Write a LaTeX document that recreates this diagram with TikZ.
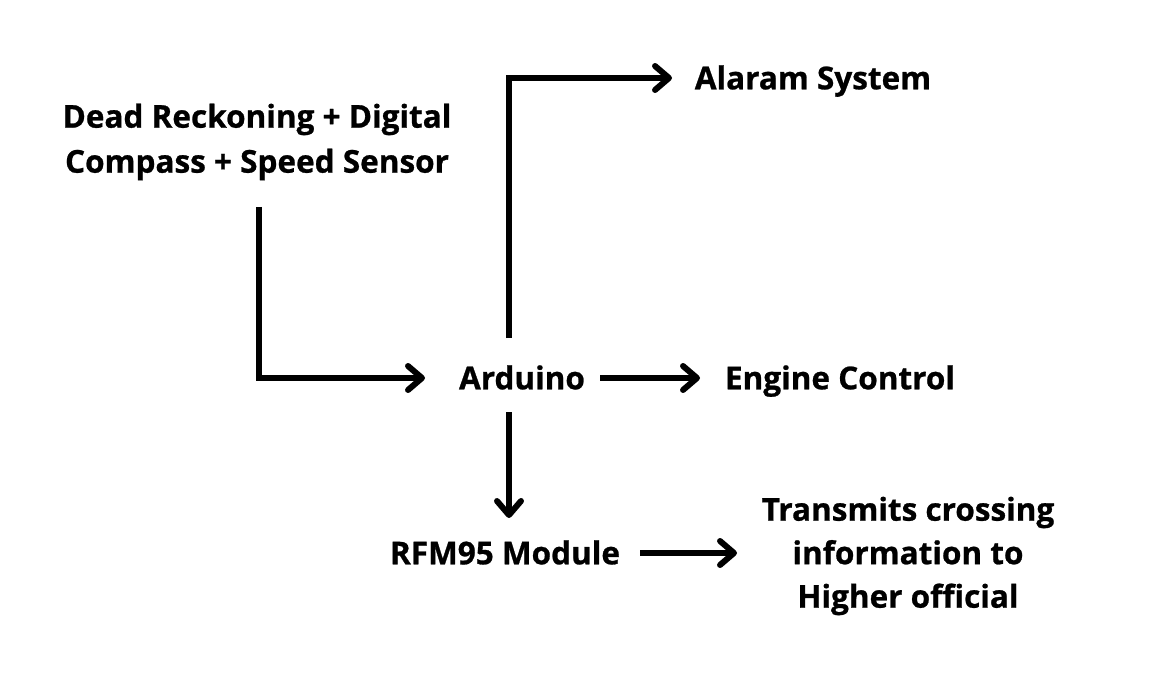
\documentclass[tikz,border=0pt]{standalone}
\usepackage{fontspec}
\setmainfont{Open Sans}[UprightFont=* Bold, FakeBold=0.8]
\usetikzlibrary{arrows.meta,calc}
\tikzset{
  lbl/.style={inner sep=0pt, font=\fontsize{31.5}{45}\selectfont, text height=22.6pt, text depth=0pt},
  mlbl/.style={inner sep=0pt, align=center},
  arr/.style={line width=6pt, -{Straight Barb[length=14pt,width=24pt,round]}}
}
\begin{document}
\begin{tikzpicture}[x=1pt,y=-1pt]
\useasboundingbox (0,0) rectangle (1172,676);
\node[mlbl, font=\fontsize{31.5}{45}\selectfont] (dr) at (257,142) {Dead Reckoning + Digital\\Compass + Speed Sensor};
\node[lbl] (al) at (813,78) {Alaram System};
\node[lbl] (ard) at (522,378) {Arduino};
\node[lbl] (eng) at (840,378) {Engine Control};
\node[lbl] (rfm) at (505,553) {RFM95 Module};
\node[mlbl, font=\fontsize{31.5}{43.5}\selectfont] (tx) at (908,556) {Transmits crossing\\information to\\Higher official};
\coordinate (drout) at (259,207);
\coordinate (ardup) at (509,338);
\coordinate (arddn) at (509,412);
\draw[arr] (drout) |- (ard.west -| 425,0);
\draw[arr] (ardup) |- (al.west -| 672,0);
\draw[arr] (ard.east -| 600,0) -- (eng.west -| 700,0);
\draw[arr] (arddn) -- (arddn |- 0,518);
\draw[arr] (rfm.east -| 640,0) -- (rfm.east -| 737,0);
\end{tikzpicture}
\end{document}
